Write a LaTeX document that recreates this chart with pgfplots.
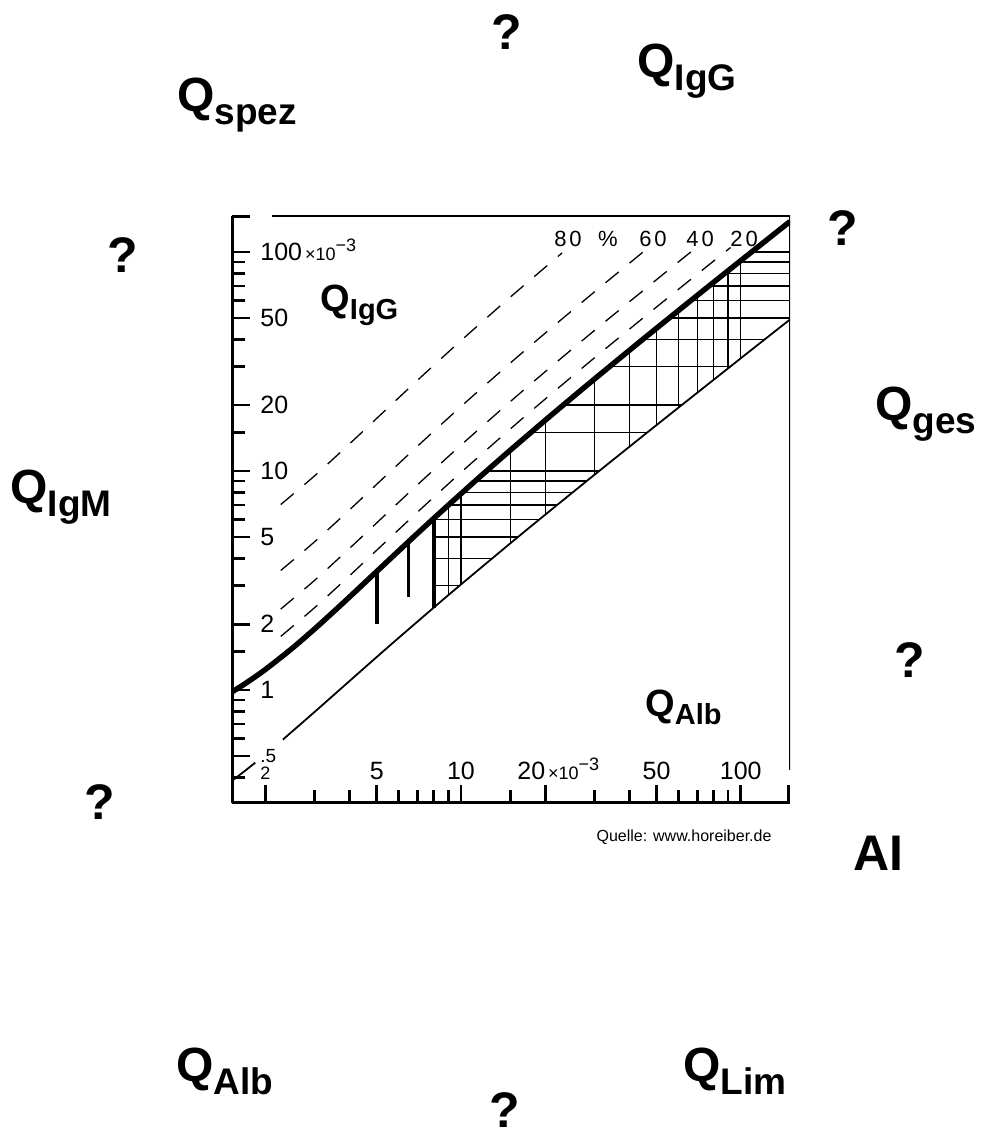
\documentclass[border=0pt]{standalone}
\usepackage{fontspec}
\setmainfont{Liberation Sans}
\usepackage{pgfplots}
\pgfplotsset{compat=1.18}

% quotient labels: big Q with lowered index
\newcommand{\Qo}[1]{{\fontsize{24}{24}\selectfont Q}\raisebox{-6.5pt}{\fontsize{18.5}{18.5}\selectfont #1}}
\newcommand{\Qi}[1]{{\fontsize{19}{19}\selectfont Q}\raisebox{-4pt}{\fontsize{14.5}{14.5}\selectfont #1}}
\newcommand{\expo}{\smash{\fontsize{9}{9}\selectfont\,×10\raisebox{0.5em}{−3}}}
\newcommand{\qm}{{\fontsize{25}{25}\selectfont ?}}

% hatch segments of the grid between the two limit lines
\newcommand{\vseg}[3]{\addplot[hatch] coordinates {(#1,#2) (#1,#3)};}
\newcommand{\hseg}[3]{\addplot[hatch] coordinates {(#2,#1) (#3,#1)};}

\pgfplotsset{
  hatch/.style={black, line width=0.6pt},
  frac/.style={black, line width=0.65pt, dash pattern=on 8.5pt off 7pt, smooth},
}

\begin{document}
\begin{tikzpicture}
\begin{scope}[x=0.5pt,y=-0.5pt,shift={(-232,-803)}]
  \useasboundingbox (0,0) rectangle (987,1138);
\end{scope}

\begin{axis}[
    at={(0,0)}, anchor=south west,
    scale only axis,
    width=279pt, height=293.5pt,
    xmode=log, ymode=log,
    xmin=1.52, xmax=150,
    ymin=0.305, ymax=146,
    axis x line*=bottom, axis y line*=left,
    axis line style={-, line width=1.5pt},
    every outer x axis line/.append style={-},
    every outer y axis line/.append style={-},
    tick align=inside,
    major tick length=9pt, minor tick length=6.5pt,
    every tick/.style={black, line width=1.4pt},
    tick label style={font=\fontsize{12.5}{12.5}\selectfont, inner sep=0pt},
    xtick={2,5,10,20,50,100},
    xticklabels={{\fontsize{9}{9}\selectfont 2},5,10,{\makebox[0pt][r]{20}\rlap{\expo}},50,100},
    minor xtick={3,4,6,7,8,9,15,30,40,60,70,80,90},
    extra x ticks={148}, extra x tick labels={},
    xticklabel style={anchor=south, yshift=11.5pt},
    ytick={0.5,1,2,5,10,20,50,100},
    yticklabels={{\fontsize{9.5}{9.5}\selectfont .5},1,2,5,10,20,50,{100\expo}},
    minor ytick={0.4,0.6,0.7,0.8,0.9,1.5,3,4,6,7,8,9,15,30,40,60,70,80,90},
    extra y ticks={145}, extra y tick labels={},
    yticklabel style={anchor=west, xshift=14pt},
  ]

% hatched grid (tick values, clipped to the band)
\vseg{9}{2.706}{6.974}
\vseg{10}{3.033}{7.875}
\vseg{15}{4.672}{12.435}
\vseg{20}{6.316}{17.039}
\vseg{30}{9.611}{26.293}
\vseg{40}{12.908}{35.570}
\vseg{50}{16.207}{44.856}
\vseg{60}{19.505}{54.146}
\vseg{70}{22.805}{63.440}
\vseg{80}{26.104}{72.735}
\vseg{90}{29.404}{82.031}
\vseg{100}{32.703}{91.328}
\hseg{3}{8}{9.90}
\hseg{4}{8}{12.95}
\hseg{5}{8}{16.0}
\hseg{6}{8}{19.04}
\hseg{7}{9.03}{22.08}
\hseg{8}{10.14}{25.11}
\hseg{9}{11.24}{28.15}
\hseg{10}{12.34}{31.18}
\hseg{15}{17.79}{46.34}
\hseg{20}{23.20}{61.50}
\hseg{30}{34.00}{91.81}
\hseg{40}{44.77}{122.11}
\hseg{50}{55.54}{150}
\hseg{60}{66.30}{150}
\hseg{70}{77.06}{150}
\hseg{80}{87.82}{150}
\hseg{90}{98.57}{150}
\hseg{100}{109.33}{150}

% intrathecal fraction lines 20, 40, 60, 80 %
\addplot[frac] coordinates {(2.27,1.758) (3,2.378) (4,3.328) (5,4.348) (7,6.496) (10,9.844) (15,15.544) (20,21.299) (30,32.866) (50,56.07) (70,79.30) (92,104.86)};
\addplot[frac] coordinates {(2.27,2.343) (3,3.170) (4,4.437) (5,5.797) (7,8.662) (10,13.125) (15,20.725) (20,28.398) (30,43.822) (50,74.76) (70,105.73)};
\addplot[frac] coordinates {(2.27,3.515) (3,4.755) (4,6.655) (5,8.695) (7,12.993) (10,19.688) (15,31.088) (20,42.598) (30,65.733) (46,102.85)};
\addplot[frac] coordinates {(2.27,7.03) (3,9.51) (4,13.31) (5,17.39) (7,25.985) (10,39.375) (15,62.175) (23,99.06)};

% lower limit
\addplot[black, line width=0.9pt] coordinates {(1.52,0.385) (1.7,0.430) (1.84,0.466)};
\addplot[black, line width=0.9pt, smooth] coordinates {(2.31,0.594) (3,0.795) (4,1.100) (5,1.415) (6,1.734) (8,2.381) (10,3.033) (15,4.672) (20,6.316) (30,9.611) (50,16.207) (100,32.703) (150,49.20)};

% age bars
\addplot[black, line width=1.8pt] coordinates {(5,3.478) (5,2.0)};
\addplot[black, line width=1.8pt] coordinates {(6.5,4.76) (6.5,2.66)};
\addplot[black, line width=2pt] coordinates {(8,6.081) (8,2.381)};

% upper limit Q_Lim
\addplot[black, line width=2.7pt, smooth] coordinates {(1.52,0.981) (1.7,1.073) (2,1.241) (2.5,1.555) (3,1.902) (3.5,2.273) (4,2.662) (5,3.478) (6,4.327) (7,5.197) (8,6.081) (10,7.875) (12,9.690) (15,12.435) (20,17.039) (25,21.661) (30,26.293) (40,35.570) (50,44.856) (70,63.440) (100,91.328) (150,137.82)};

\draw[line width=0.7pt] (rel axis cs:0.072,1) -- (rel axis cs:1,1) -- (rel axis cs:1,0.056);
\end{axis}

\begin{scope}[x=0.5pt,y=-0.5pt,shift={(-232,-803)}, every node/.style={inner sep=0pt}]
  % labels inside the frame
  \node[anchor=base west, font=\bfseries] at (320,312) {\Qi{IgG}};
  \node[anchor=base west, font=\bfseries] at (645,717) {\Qi{Alb}};
  \begin{scope}[every node/.append style={font=\fontsize{11}{11}\selectfont}]
    \node at (568,239) {8\kern1.5pt 0};
    \node at (608,239) {\%};
    \node at (653,239) {6\kern1.5pt 0};
    \node at (700,239) {4\kern1.5pt 0};
    \node at (744,239) {2\kern1.5pt 0};
  \end{scope}
  \node[font=\fontsize{8}{8}\selectfont, anchor=base] at (684,842) {Quelle: www.horeiber.de};
  % labels around the chart
  \begin{scope}[every node/.append style={font=\bfseries}]
    \node at (507,32) {\qm};
    \node[anchor=base west] at (177,112) {\Qo{spez}};
    \node[anchor=base west] at (637,78) {\Qo{IgG}};
    \node at (123,255) {\qm};
    \node at (843,228) {\qm};
    \node[anchor=base west] at (875,421) {\Qo{ges}};
    \node[anchor=base west] at (10,504) {\Qo{IgM}};
    \node at (910,660) {\qm};
    \node at (100,802) {\qm};
    \node at (878,853) {\fontsize{25}{25}\selectfont AI};
    \node[anchor=base west] at (176,1081) {\Qo{Alb}};
    \node[anchor=base west] at (683,1081) {\Qo{Lim}};
    \node at (505,1110) {\qm};
  \end{scope}
\end{scope}
\end{tikzpicture}
\end{document}
